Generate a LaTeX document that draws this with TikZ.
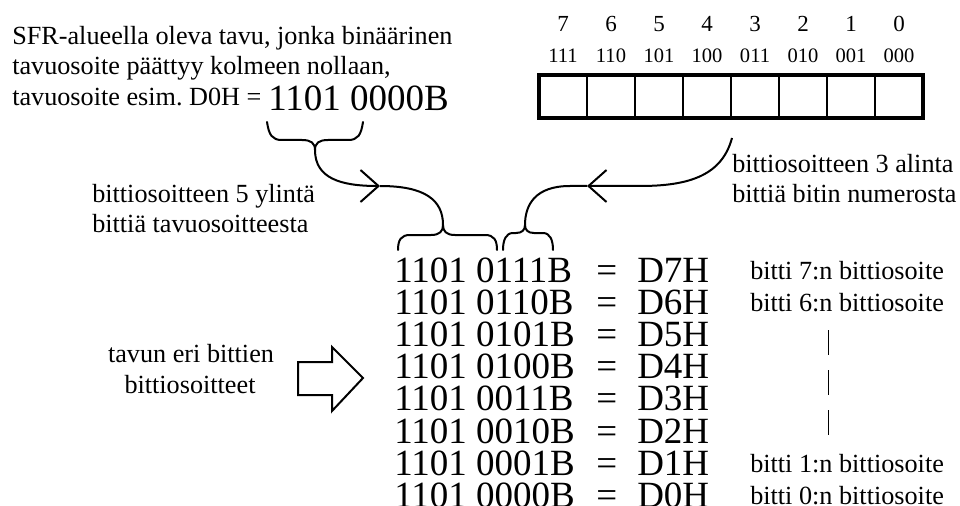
\documentclass[tikz,border=0pt]{standalone}
\usepackage{fontspec}
\setmainfont{Liberation Serif}
\usetikzlibrary{arrows.meta}
\frenchspacing
\begin{document}
\begin{tikzpicture}[x=0.75pt,y=-0.75pt,
  small/.style={inner sep=0pt,anchor=base west,font=\fontsize{19.65}{23}\selectfont},
  large/.style={inner sep=0pt,anchor=base west,font=\fontsize{27.75}{30}\selectfont},
  bitnum/.style={inner sep=0pt,anchor=base,font=\fontsize{17.25}{20}\selectfont},
  bitcode/.style={inner sep=0pt,anchor=base,font=\fontsize{15.4}{18}\selectfont},
  cell/.style={draw,line width=1.5pt,minimum width=36pt,minimum height=32.25pt,inner sep=0pt,outer sep=0pt},
  brace/.style={line width=1.5pt,line cap=round},
  link/.style={line width=1.5pt},
  barb/.style={-{Straight Barb[length=13.5pt,width=24pt]}},
]
\useasboundingbox (0,0) rectangle (960,506);

% byte address text
\node[small] (t1) at (12,45) {SFR-alueella oleva tavu, jonka binäärinen};
\node[small] (t2) at (12,75) {tavuosoite päättyy kolmeen nollaan,};
\node[small] (t3) at (12,106) {tavuosoite esim.\ D0H =};
\node[large] (addr) at (268,111) {1101 0000B};

% register with bit numbers and 3-bit codes
\foreach [count=\i from 0] \n/\c in {7/111,6/110,5/101,4/100,3/011,2/010,1/001,0/000} {
  \node[bitnum] (num\i) at (563+48*\i,32) {\n};
  \node[bitcode] (code\i) at (563+48*\i,63) {\c};
  \node[cell] (c\i) at (563+48*\i,96.5) {};
}
\draw[line width=3pt] (c0.north west) rectangle (c7.south east);

% key points of the braces and connectors
\coordinate (ucusp) at (315,150);
\coordinate (tipA) at (380,186);
\coordinate (lcuspL) at (443,225);
\coordinate (lcuspR) at (525,225);
\coordinate (tipB) at (587,186);
\coordinate (bx) at (732,138);

% brace under the five upper bits of the byte address
\draw[brace] (267,122) .. controls (269,135) and (272,140) .. (282,140) -- (302,140)
  .. controls (311,140) and (315,143) .. (ucusp)
  .. controls (315,143) and (319,140) .. (328,140) -- (348,140)
  .. controls (358,140) and (361,135) .. (363,122);

% braces over the bit address parts
\draw[brace] (398,250) .. controls (398,240) and (401,235) .. (410,235) -- (431,235)
  .. controls (440,235) and (443,231) .. (lcuspL)
  .. controls (443,231) and (446,235) .. (455,235) -- (485,235)
  .. controls (494,235) and (497,240) .. (497,250);
\draw[brace] (503,250) .. controls (503,240) and (506,233) .. (513,233) -- (516,233)
  .. controls (522,233) and (525,230) .. (lcuspR)
  .. controls (525,230) and (528,233) .. (534,233) -- (543,233)
  .. controls (550,233) and (553,240) .. (553,250);

% connectors
\draw[link,barb] (ucusp) .. controls (315,178) and (340,186) .. (tipA);
\draw[link] (tipA) .. controls (425,186) and (443,200) .. (lcuspL);
\draw[link,barb] (bx) .. controls (722,175) and (690,186) .. (640,186) -- (tipB);
\draw[link] (tipB) -- (570,186) .. controls (535,186) and (525,205) .. (lcuspR);

% connector labels
\node[small] (lab5a) at (92,203) {bittiosoitteen 5 ylintä};
\node[small] (lab5b) at (92,233) {bittiä tavuosoitteesta};
\node[small] (lab3a) at (732,173) {bittiosoitteen 3 alinta};
\node[small] (lab3b) at (732,202) {bittiä bitin numerosta};

% bit addresses
\foreach [count=\i from 0] \b/\h in {0111/7,0110/6,0101/5,0100/4,0011/3,0010/2,0001/1,0000/0} {
  \pgfmathsetmacro\yy{282+32.2*\i}
  \node[large] (bin\i) at (394,\yy) {1101 \b B};
  \node[large] (eq\i) at (596,\yy) {=};
  \node[large] (hex\i) at (637,\yy) {D\h H};
}

\node[small] (r7) at (750,279) {bitti 7:n bittiosoite};
\node[small] (r6) at (750,311) {bitti 6:n bittiosoite};
\node[small] (r1) at (750,472) {bitti 1:n bittiosoite};
\node[small] (r0) at (750,504) {bitti 0:n bittiosoite};

\coordinate (dtop) at (828,330);
\coordinate (dbot) at (828,435);
\draw[line width=0.75pt,dash pattern=on 18.75pt off 11.25pt] (dtop) -- (dbot);

% block arrow with its caption
\node[small,anchor=base] (lt1) at (191,362) {tavun eri bittien};
\node[small,anchor=base] (lt2) at (190,393) {bittiosoitteet};
\draw[line width=1.5pt,line join=miter] (298,362) -- (332,362) -- (332,347) -- (363,378)
  -- (332,411) -- (332,395) -- (298,395) -- cycle;
\end{tikzpicture}
\end{document}
